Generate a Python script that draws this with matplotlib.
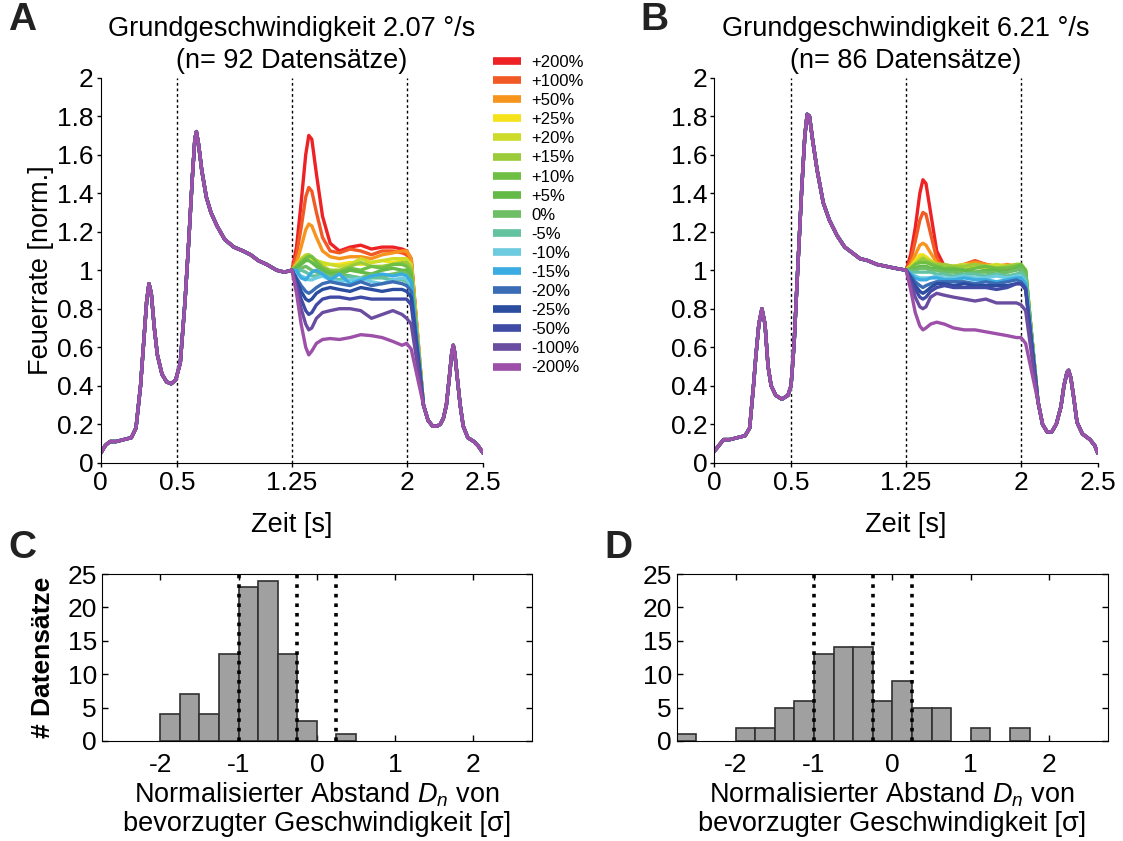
import numpy as np
import matplotlib
matplotlib.use("Agg")
import matplotlib.pyplot as plt

plt.rcParams['font.family'] = ['Liberation Sans', 'DejaVu Sans']
plt.rcParams['mathtext.fontset'] = 'custom'
plt.rcParams['mathtext.rm'] = 'Liberation Sans'
plt.rcParams['mathtext.it'] = 'Liberation Sans:italic'
plt.rcParams['axes.unicode_minus'] = False

# conditions (speed change relative to base speed)
labels = ['+200%', '+100%', '+50%', '+25%', '+20%', '+15%', '+10%', '+5%', '0%',
          '-5%', '-10%', '-15%', '-20%', '-25%', '-50%', '-100%', '-200%']
colors = ['#ee2224', '#f15a24', '#f7941d', '#f6e21a', '#cddc29', '#9bcb3b', '#70bf45',
          '#63ba47', '#6dbe64', '#63c3a0', '#6ccbde', '#3aace2', '#3a6db5', '#2b4da0',
          '#3f4ba4', '#6a4da0', '#9c50a8']

# panel A: common response before the speed step
pre_t_a = [0.00, 0.03, 0.06, 0.10, 0.15, 0.20, 0.23, 0.26, 0.28, 0.30, 0.315, 0.33, 0.35,
           0.37, 0.40, 0.43, 0.46, 0.49, 0.52, 0.55, 0.575, 0.60, 0.615, 0.625, 0.64, 0.66,
           0.69, 0.72, 0.76, 0.81, 0.87, 0.93, 0.98, 1.03, 1.085, 1.15, 1.20, 1.25]
pre_v_a = [0.05, 0.09, 0.11, 0.11, 0.12, 0.13, 0.18, 0.40, 0.62, 0.84, 0.93, 0.88, 0.70,
           0.56, 0.46, 0.42, 0.41, 0.43, 0.52, 0.83, 1.15, 1.50, 1.68, 1.72, 1.65, 1.52,
           1.38, 1.30, 1.23, 1.16, 1.12, 1.10, 1.08, 1.05, 1.03, 1.00, 0.99, 1.00]

# time points inside the speed-step window (same for both panels)
win_t = [1.28, 1.31, 1.34, 1.36, 1.38, 1.41, 1.45, 1.50, 1.56, 1.63, 1.70, 1.77, 1.84,
         1.91, 1.97, 2.00, 2.03]

win_a = [
    [1.12, 1.35, 1.60, 1.70, 1.68, 1.50, 1.28, 1.14, 1.10, 1.12, 1.13, 1.11, 1.12, 1.12, 1.11, 1.10, 1.06],
    [1.08, 1.22, 1.38, 1.43, 1.41, 1.30, 1.17, 1.10, 1.09, 1.11, 1.10, 1.08, 1.10, 1.10, 1.09, 1.08, 1.04],
    [1.04, 1.12, 1.21, 1.24, 1.23, 1.17, 1.10, 1.07, 1.06, 1.07, 1.07, 1.06, 1.08, 1.09, 1.10, 1.10, 1.06],
    [1.02, 1.05, 1.07, 1.07, 1.06, 1.05, 1.03, 1.03, 1.03, 1.04, 1.03, 1.04, 1.05, 1.04, 1.05, 1.05, 1.02],
    [1.03, 1.06, 1.08, 1.08, 1.07, 1.05, 1.04, 1.03, 1.02, 1.03, 1.06, 1.04, 1.05, 1.06, 1.06, 1.06, 1.03],
    [1.02, 1.05, 1.07, 1.08, 1.07, 1.05, 1.02, 1.00, 1.00, 1.02, 1.04, 1.02, 1.02, 1.03, 1.04, 1.04, 1.01],
    [1.02, 1.04, 1.06, 1.07, 1.07, 1.04, 1.01, 0.99, 0.99, 1.01, 1.00, 1.02, 1.01, 1.03, 1.03, 1.02, 0.99],
    [1.01, 1.03, 1.05, 1.05, 1.04, 1.02, 1.00, 0.98, 0.98, 1.00, 0.99, 0.98, 1.00, 1.01, 1.00, 1.00, 0.97],
    [1.00, 1.01, 1.02, 1.01, 1.00, 0.99, 0.98, 0.97, 0.98, 0.97, 0.96, 0.98, 0.97, 0.98, 0.99, 0.98, 0.95],
    [0.99, 1.00, 0.99, 0.98, 0.97, 0.97, 0.98, 0.96, 0.95, 0.97, 0.95, 0.96, 0.96, 0.95, 0.95, 0.94, 0.91],
    [0.98, 0.97, 0.96, 0.95, 0.95, 0.96, 0.97, 0.95, 0.94, 0.95, 0.96, 0.94, 0.93, 0.95, 0.96, 0.95, 0.92],
    [1.00, 0.96, 0.95, 0.97, 0.99, 1.00, 0.98, 0.95, 0.98, 0.93, 0.95, 0.97, 0.98, 0.97, 0.98, 0.97, 0.94],
    [0.96, 0.92, 0.89, 0.88, 0.89, 0.91, 0.93, 0.94, 0.93, 0.92, 0.94, 0.92, 0.93, 0.94, 0.93, 0.92, 0.89],
    [0.95, 0.89, 0.85, 0.84, 0.85, 0.88, 0.90, 0.91, 0.90, 0.89, 0.91, 0.90, 0.89, 0.90, 0.90, 0.89, 0.86],
    [0.93, 0.85, 0.79, 0.77, 0.78, 0.82, 0.85, 0.86, 0.86, 0.85, 0.86, 0.85, 0.85, 0.85, 0.85, 0.85, 0.82],
    [0.91, 0.80, 0.72, 0.69, 0.70, 0.75, 0.78, 0.79, 0.80, 0.80, 0.79, 0.75, 0.77, 0.79, 0.77, 0.75, 0.72],
    [0.88, 0.72, 0.60, 0.56, 0.58, 0.62, 0.64, 0.645, 0.64, 0.65, 0.665, 0.66, 0.65, 0.63, 0.61, 0.62, 0.59],
]

post_t_a = [2.11, 2.14, 2.17, 2.20, 2.22, 2.24, 2.26, 2.28, 2.295, 2.305, 2.315, 2.33, 2.35,
            2.37, 2.40, 2.44, 2.47, 2.50]
post_v_a = [0.30, 0.22, 0.19, 0.19, 0.20, 0.23, 0.30, 0.45, 0.57, 0.61, 0.57, 0.45, 0.30,
            0.19, 0.13, 0.11, 0.085, 0.05]

# panel B
pre_t_b = [0.00, 0.03, 0.06, 0.10, 0.15, 0.20, 0.23, 0.255, 0.27, 0.29, 0.31, 0.33, 0.35,
           0.37, 0.40, 0.44, 0.48, 0.50, 0.52, 0.54, 0.57, 0.59, 0.605, 0.62, 0.64, 0.67,
           0.71, 0.75, 0.80, 0.85, 0.90, 0.95, 1.00, 1.06, 1.12, 1.18, 1.25]
pre_v_b = [0.06, 0.09, 0.12, 0.12, 0.13, 0.14, 0.18, 0.40, 0.55, 0.72, 0.80, 0.72, 0.50,
           0.40, 0.35, 0.33, 0.35, 0.40, 0.62, 0.95, 1.43, 1.70, 1.81, 1.80, 1.68, 1.52,
           1.35, 1.26, 1.18, 1.12, 1.09, 1.06, 1.05, 1.03, 1.02, 1.01, 1.00]

win_b = [
    [1.08, 1.22, 1.40, 1.47, 1.45, 1.30, 1.10, 1.02, 1.00, 1.02, 1.04, 1.03, 1.01, 1.00, 1.01, 1.00, 0.97],
    [1.05, 1.15, 1.26, 1.30, 1.29, 1.19, 1.06, 1.01, 1.01, 1.03, 1.05, 1.03, 1.02, 1.02, 1.01, 1.01, 0.98],
    [1.03, 1.08, 1.13, 1.14, 1.13, 1.09, 1.04, 1.02, 1.02, 1.03, 1.04, 1.03, 1.02, 1.03, 1.02, 1.02, 0.99],
    [1.02, 1.05, 1.08, 1.08, 1.07, 1.05, 1.03, 1.02, 1.01, 1.02, 1.02, 1.01, 1.02, 1.02, 1.02, 1.01, 0.98],
    [1.02, 1.04, 1.06, 1.07, 1.06, 1.05, 1.03, 1.02, 1.02, 1.03, 1.02, 1.02, 1.03, 1.02, 1.03, 1.03, 1.00],
    [1.01, 1.03, 1.05, 1.06, 1.05, 1.04, 1.03, 1.03, 1.02, 1.02, 1.03, 1.02, 1.01, 1.02, 1.03, 1.03, 1.00],
    [1.01, 1.03, 1.04, 1.04, 1.04, 1.03, 1.02, 1.01, 1.01, 1.00, 1.01, 1.02, 1.01, 1.01, 1.02, 1.03, 1.00],
    [1.00, 1.01, 1.02, 1.02, 1.02, 1.01, 1.01, 1.00, 1.00, 1.00, 0.99, 1.00, 1.00, 0.99, 1.01, 1.02, 0.99],
    [1.00, 1.00, 1.01, 1.01, 1.01, 1.00, 1.00, 0.99, 0.99, 0.98, 0.99, 0.99, 0.98, 0.99, 1.00, 1.01, 0.98],
    [0.99, 0.99, 0.99, 0.99, 0.99, 0.99, 0.98, 0.98, 0.97, 0.98, 0.98, 0.97, 0.98, 0.97, 0.98, 0.99, 0.96],
    [0.98, 0.97, 0.96, 0.96, 0.96, 0.96, 0.97, 0.96, 0.96, 0.97, 0.96, 0.96, 0.97, 0.96, 0.97, 0.97, 0.94],
    [0.98, 0.96, 0.95, 0.95, 0.95, 0.96, 0.96, 0.95, 0.95, 0.96, 0.95, 0.95, 0.94, 0.95, 0.96, 0.96, 0.93],
    [0.97, 0.94, 0.92, 0.91, 0.92, 0.93, 0.94, 0.94, 0.94, 0.94, 0.93, 0.94, 0.93, 0.94, 0.95, 0.94, 0.91],
    [0.96, 0.92, 0.89, 0.88, 0.89, 0.91, 0.93, 0.93, 0.92, 0.93, 0.92, 0.92, 0.92, 0.92, 0.93, 0.93, 0.90],
    [0.95, 0.90, 0.86, 0.85, 0.86, 0.89, 0.91, 0.92, 0.91, 0.91, 0.91, 0.91, 0.90, 0.91, 0.93, 0.93, 0.90],
    [0.93, 0.86, 0.81, 0.80, 0.81, 0.86, 0.88, 0.87, 0.86, 0.85, 0.84, 0.85, 0.83, 0.83, 0.83, 0.82, 0.79],
    [0.90, 0.78, 0.71, 0.69, 0.70, 0.72, 0.73, 0.72, 0.70, 0.69, 0.69, 0.68, 0.67, 0.66, 0.65, 0.65, 0.62],
]

post_t_b = [2.11, 2.14, 2.17, 2.20, 2.23, 2.26, 2.28, 2.30, 2.31, 2.325, 2.345, 2.365, 2.40,
            2.45, 2.48, 2.50]
post_v_b = [0.32, 0.20, 0.16, 0.16, 0.20, 0.29, 0.40, 0.47, 0.48, 0.44, 0.33, 0.21, 0.15,
            0.12, 0.09, 0.05]

# histograms (bin width 0.25)
bin_w = 0.25
bins_c = [-2.0, -1.75, -1.5, -1.25, -1.0, -0.75, -0.5, -0.25, 0.25]
counts_c = [4, 7, 4, 13, 23, 24, 13, 3, 1]
bins_d = [-2.75, -2.0, -1.75, -1.5, -1.25, -1.0, -0.75, -0.5, -0.25, 0.0, 0.25, 0.5, 1.0, 1.5]
counts_d = [1, 2, 2, 5, 6, 13, 14, 14, 6, 9, 5, 5, 2, 2]
hist_lines = [-1.0, -0.25, 0.25]

W, H = 1123, 841
fig = plt.figure(figsize=(W / 100, H / 100), dpi=100)


def box(l, t, r, b):
    return [l / W, 1 - b / H, (r - l) / W, (b - t) / H]


def rate_panel(rect, pre_t, pre_v, win, post_t, post_v, title):
    ax = fig.add_axes(rect)
    for k in range(len(labels)):
        t = np.concatenate([pre_t, win_t, post_t])
        v = np.concatenate([pre_v, win[k], post_v])
        ax.plot(t, v, color=colors[k], lw=2.4, solid_capstyle='round', label=labels[k])
    for x in [0.5, 1.25, 2.0]:
        ax.axvline(x, color='black', lw=1, ls=(0, (2, 2)), zorder=0)
    ax.set_xlim(0, 2.5)
    ax.set_ylim(0, 2)
    ax.set_xticks([0, 0.5, 1.25, 2, 2.5])
    ax.set_xticklabels(['0', '0.5', '1.25', '2', '2.5'])
    ax.set_yticks(np.arange(0, 2.01, 0.2))
    ax.set_yticklabels(['%g' % round(y, 1) for y in np.arange(0, 2.01, 0.2)])
    ax.spines['top'].set_visible(False)
    ax.spines['right'].set_visible(False)
    ax.tick_params(direction='out', length=3, width=1, labelsize=19)
    ax.tick_params(axis='x', pad=3)
    ax.tick_params(axis='y', pad=2)
    ax.set_xlabel('Zeit [s]', fontsize=19.5, labelpad=12)
    ax.set_title(title, fontsize=19.5, pad=7, linespacing=1.3)
    return ax


def hist_panel(rect, bins, counts):
    ax = fig.add_axes(rect)
    ax.bar(bins, counts, width=bin_w, align='edge', color='#a0a0a0',
           edgecolor='#303030', lw=1.2, zorder=2)
    for x in hist_lines:
        ax.axvline(x, color='black', lw=2.6, ls=':', zorder=3)
    ax.set_xlim(-2.75, 2.75)
    ax.set_ylim(0, 25)
    ax.set_xticks([-2, -1, 0, 1, 2])
    ax.set_yticks([0, 5, 10, 15, 20, 25])
    ax.tick_params(direction='in', length=4, width=1, labelsize=19,
                   top=True, right=True)
    ax.tick_params(axis='x', pad=9)
    ax.set_xlabel('Normalisierter Abstand $D_n$ von\nbevorzugter Geschwindigkeit [σ]',
                  fontsize=19.5, labelpad=2, linespacing=1.1)
    return ax


ax_a = rate_panel(box(100.8, 77.7, 483.1, 462.7), pre_t_a, pre_v_a, win_a, post_t_a, post_v_a,
                  'Grundgeschwindigkeit 2.07 °/s\n(n= 92 Datensätze)')
ax_a.set_ylabel('Feuerrate [norm.]', fontsize=19.5, labelpad=2)
ax_a.legend(loc='upper left', bbox_to_anchor=(493 / W, 1 - 55 / H),
            bbox_transform=fig.transFigure, frameon=False, fontsize=12,
            handlelength=1.65, handletextpad=0.65, labelspacing=0.245,
            borderaxespad=0, borderpad=0)
for line in ax_a.get_legend().get_lines():
    line.set_linewidth(5.5)
    line.set_solid_capstyle('butt')

ax_b = rate_panel(box(714.4, 77.7, 1097.7, 462.7), pre_t_b, pre_v_b, win_b, post_t_b, post_v_b,
                  'Grundgeschwindigkeit 6.21 °/s\n(n= 86 Datensätze)')

ax_c = hist_panel(box(101.7, 574, 532, 741), bins_c, counts_c)
ax_c.set_ylabel('# Datensätze', fontsize=19, fontweight='bold', labelpad=9)
ax_d = hist_panel(box(676.7, 574, 1108, 741), bins_d, counts_d)

for letter, x, y in [('A', 8, 2), ('B', 640, 2), ('C', 8, 530), ('D', 604, 530)]:
    fig.text(x / W, 1 - y / H, letter, fontsize=28, fontweight='bold',
             ha='left', va='top', color='#222222')

fig.savefig('out.png', dpi=100)
